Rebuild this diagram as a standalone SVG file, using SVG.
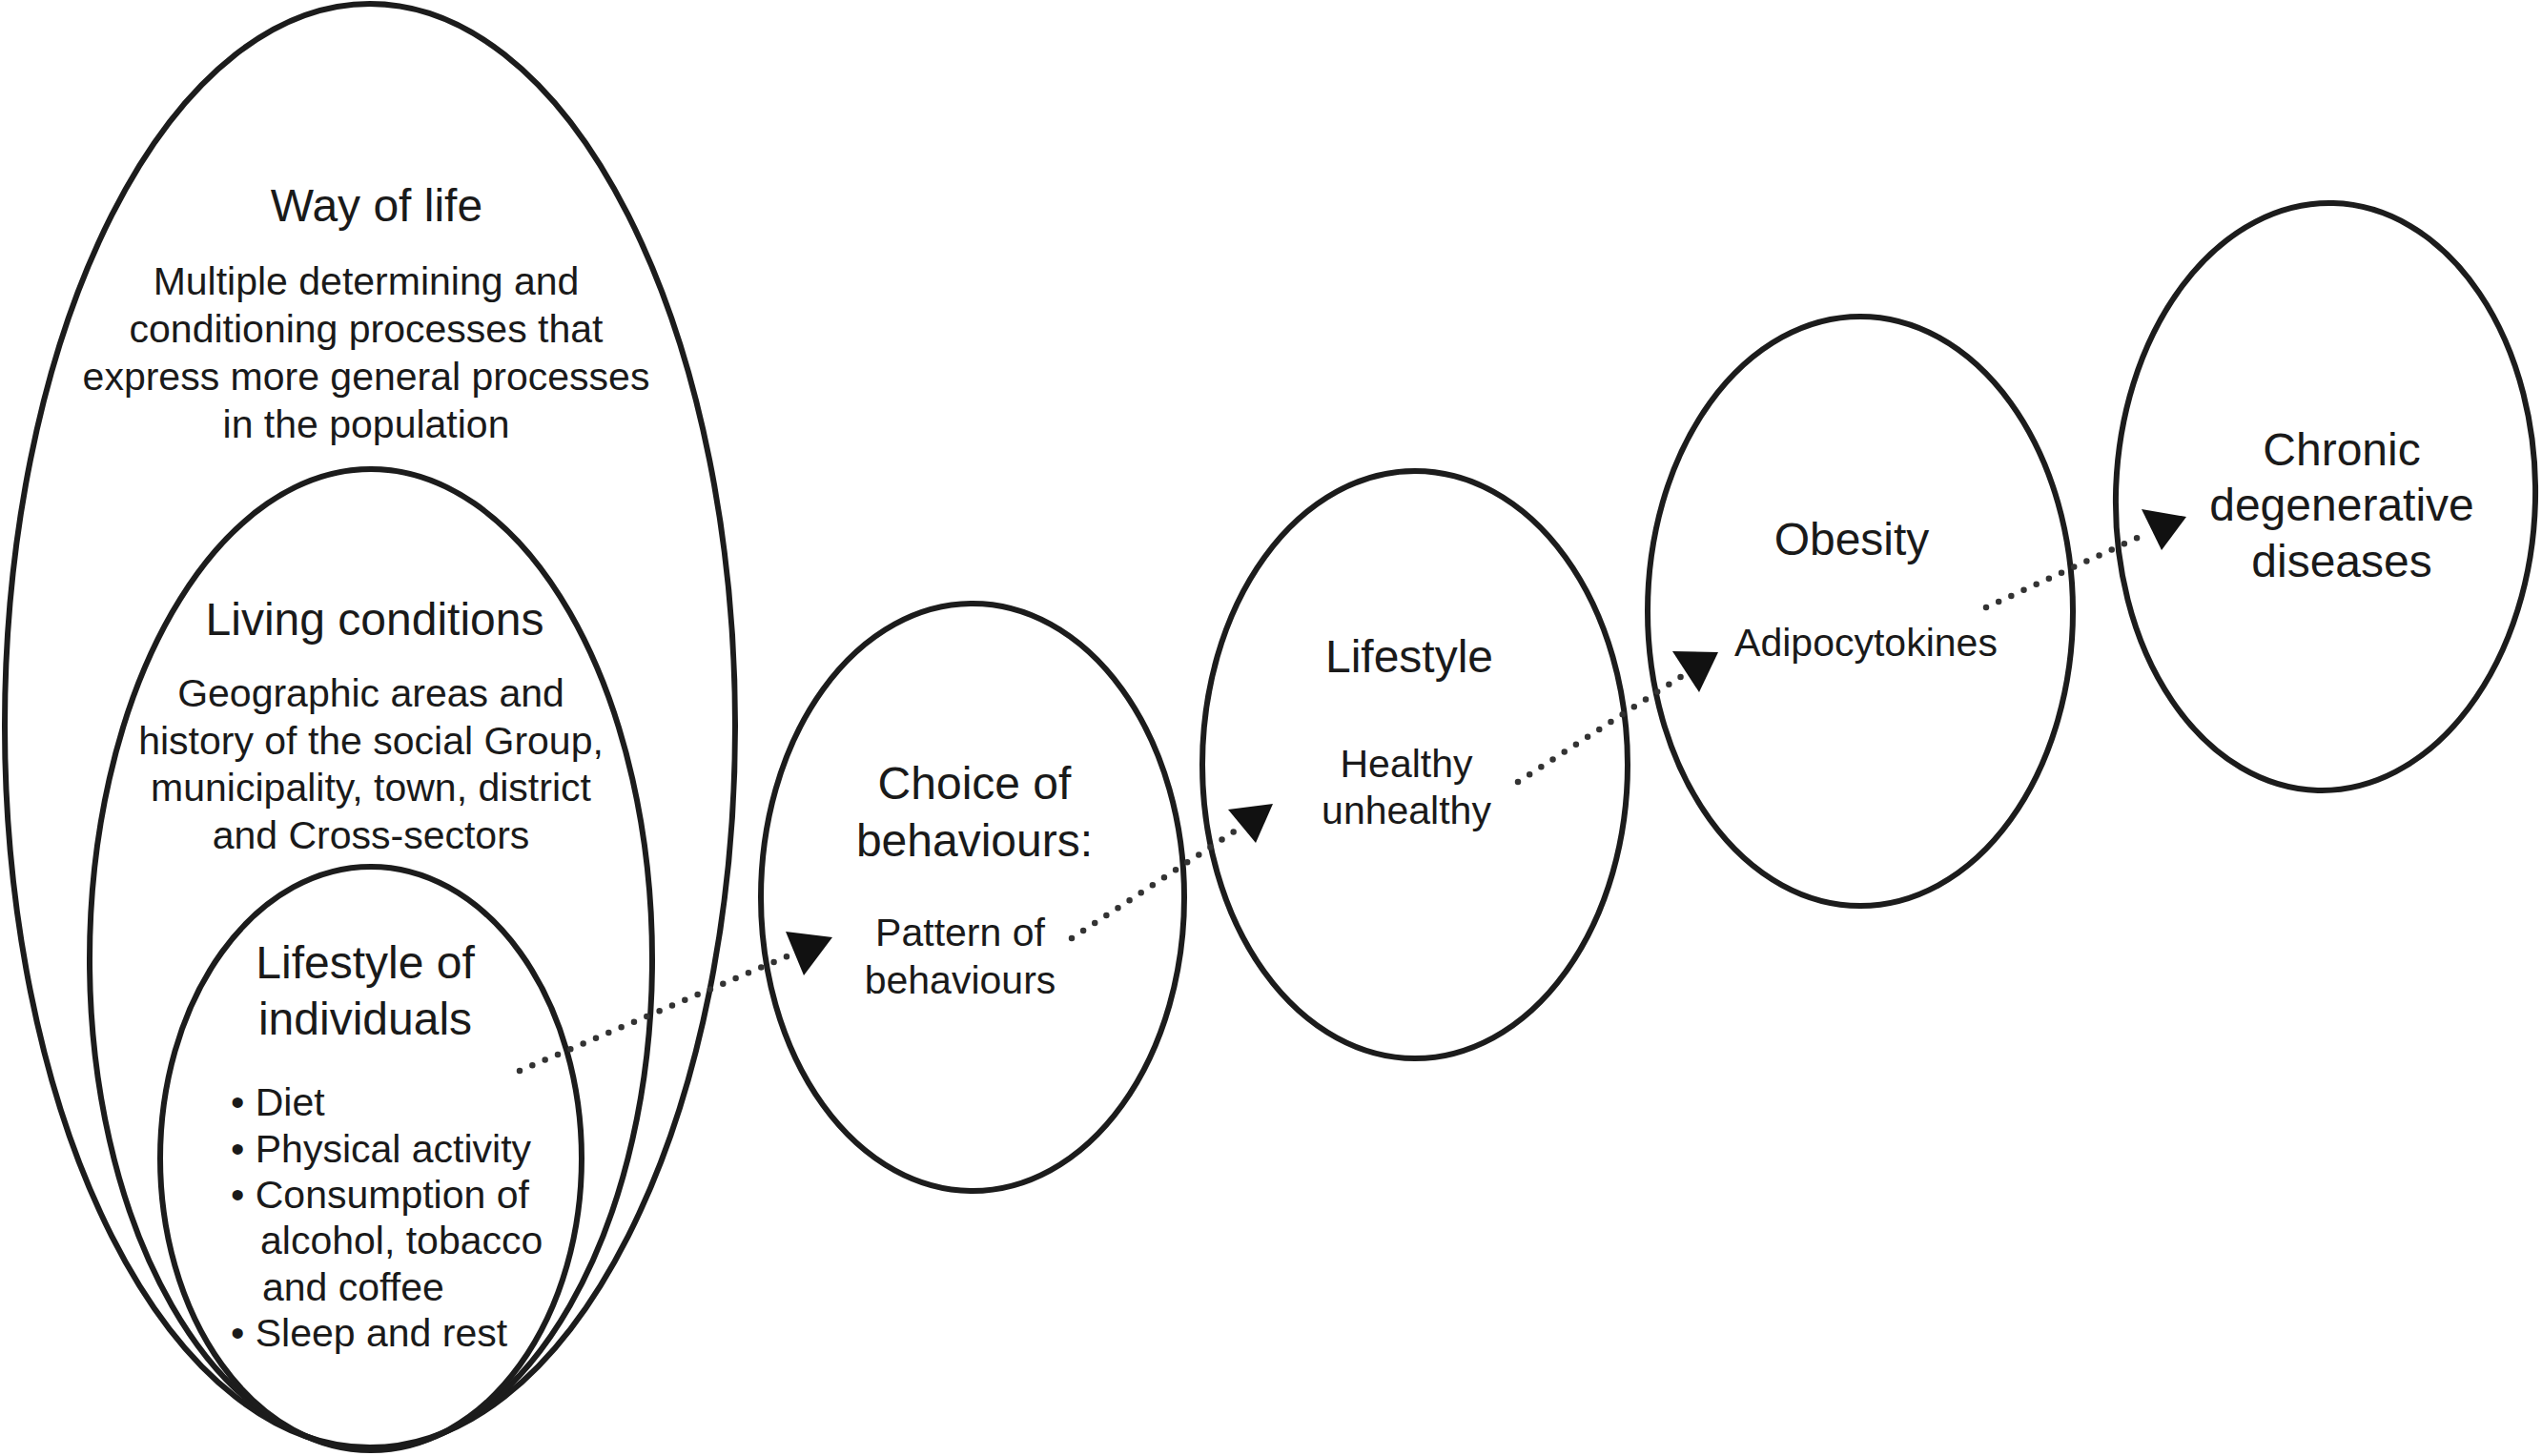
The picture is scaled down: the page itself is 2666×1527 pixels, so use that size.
<svg xmlns="http://www.w3.org/2000/svg" width="2666" height="1527" viewBox="0 0 2666 1527">
<style>
  .node { fill: none; stroke: #1c1c1c; stroke-width: 6; }
  .t { font-family: "Liberation Sans", Arial, sans-serif; fill: #1a1a1a; text-anchor: middle; }
  .h { font-size: 48px; }
  .b { font-size: 41px; }
  .l { text-anchor: start; }
  .dots { fill: none; stroke: #333; stroke-width: 6.5; stroke-linecap: round; stroke-dasharray: 0 14.5; }
  .head { fill: #111; stroke: none; }
</style>
<rect width="2666" height="1527" fill="#fff"/>
<g id="way-of-life">
  <ellipse class="node" cx="388" cy="761" rx="383" ry="757"/>
  <text class="t h" x="395" y="232">Way of life</text>
  <text class="t b" x="384" y="309">Multiple determining and</text>
  <text class="t b" x="384" y="359">conditioning processes that</text>
  <text class="t b" x="384" y="409">express more general processes</text>
  <text class="t b" x="384" y="459">in the population</text>
</g>
<g id="living-conditions">
  <ellipse class="node" cx="389" cy="1006" rx="295" ry="514"/>
  <text class="t h" x="393" y="666">Living conditions</text>
  <text class="t b" x="389" y="741">Geographic areas and</text>
  <text class="t b" x="389" y="791">history of the social Group,</text>
  <text class="t b" x="389" y="840">municipality, town, district</text>
  <text class="t b" x="389" y="890">and Cross-sectors</text>
</g>
<g id="lifestyle-of-individuals">
  <ellipse class="node" cx="389" cy="1215" rx="221" ry="306"/>
  <text class="t h" x="383" y="1026">Lifestyle of</text>
  <text class="t h" x="383" y="1085">individuals</text>
  <text class="t b l" x="242" y="1170">• Diet</text>
  <text class="t b l" x="242" y="1219">• Physical activity</text>
  <text class="t b l" x="242" y="1267">• Consumption of</text>
  <text class="t b l" x="273" y="1315">alcohol, tobacco</text>
  <text class="t b l" x="275" y="1364">and coffee</text>
  <text class="t b l" x="242" y="1412">• Sleep and rest</text>
</g>
<g id="choice-of-behaviours">
  <ellipse class="node" cx="1020" cy="941" rx="222" ry="308"/>
  <text class="t h" x="1022" y="838">Choice of</text>
  <text class="t h" x="1022" y="898">behaviours:</text>
  <text class="t b" x="1007" y="992">Pattern of</text>
  <text class="t b" x="1007" y="1042">behaviours</text>
</g>
<g id="lifestyle">
  <ellipse class="node" cx="1484" cy="802" rx="223" ry="308"/>
  <text class="t h" x="1478" y="705">Lifestyle</text>
  <text class="t b" x="1475" y="815">Healthy</text>
  <text class="t b" x="1475" y="864">unhealthy</text>
</g>
<g id="obesity">
  <ellipse class="node" cx="1951" cy="641" rx="223" ry="309"/>
  <text class="t h" x="1942" y="582">Obesity</text>
  <text class="t b" x="1957" y="688">Adipocytokines</text>
</g>
<g id="chronic-degenerative-diseases">
  <ellipse class="node" cx="2439" cy="521" rx="220" ry="308" transform="rotate(1.5 2439 521)"/>
  <text class="t h" x="2456" y="488">Chronic</text>
  <text class="t h" x="2456" y="546">degenerative</text>
  <text class="t h" x="2456" y="605">diseases</text>
</g>
<g id="connectors">
  <line class="dots" x1="545" y1="1123" x2="830" y2="1001"/>
  <polygon class="head" points="824,977 873,983 843,1023"/>
  <line class="dots" x1="1124" y1="984" x2="1299" y2="869"/>
  <polygon class="head" points="1288,849 1335,843 1317,884"/>
  <line class="dots" x1="1592" y1="820" x2="1767" y2="707"/>
  <polygon class="head" points="1754,683 1802,684 1782,726"/>
  <line class="dots" x1="2083" y1="637" x2="2246" y2="562"/>
  <polygon class="head" points="2246,534 2293,542 2267,577"/>
</g>
</svg>
